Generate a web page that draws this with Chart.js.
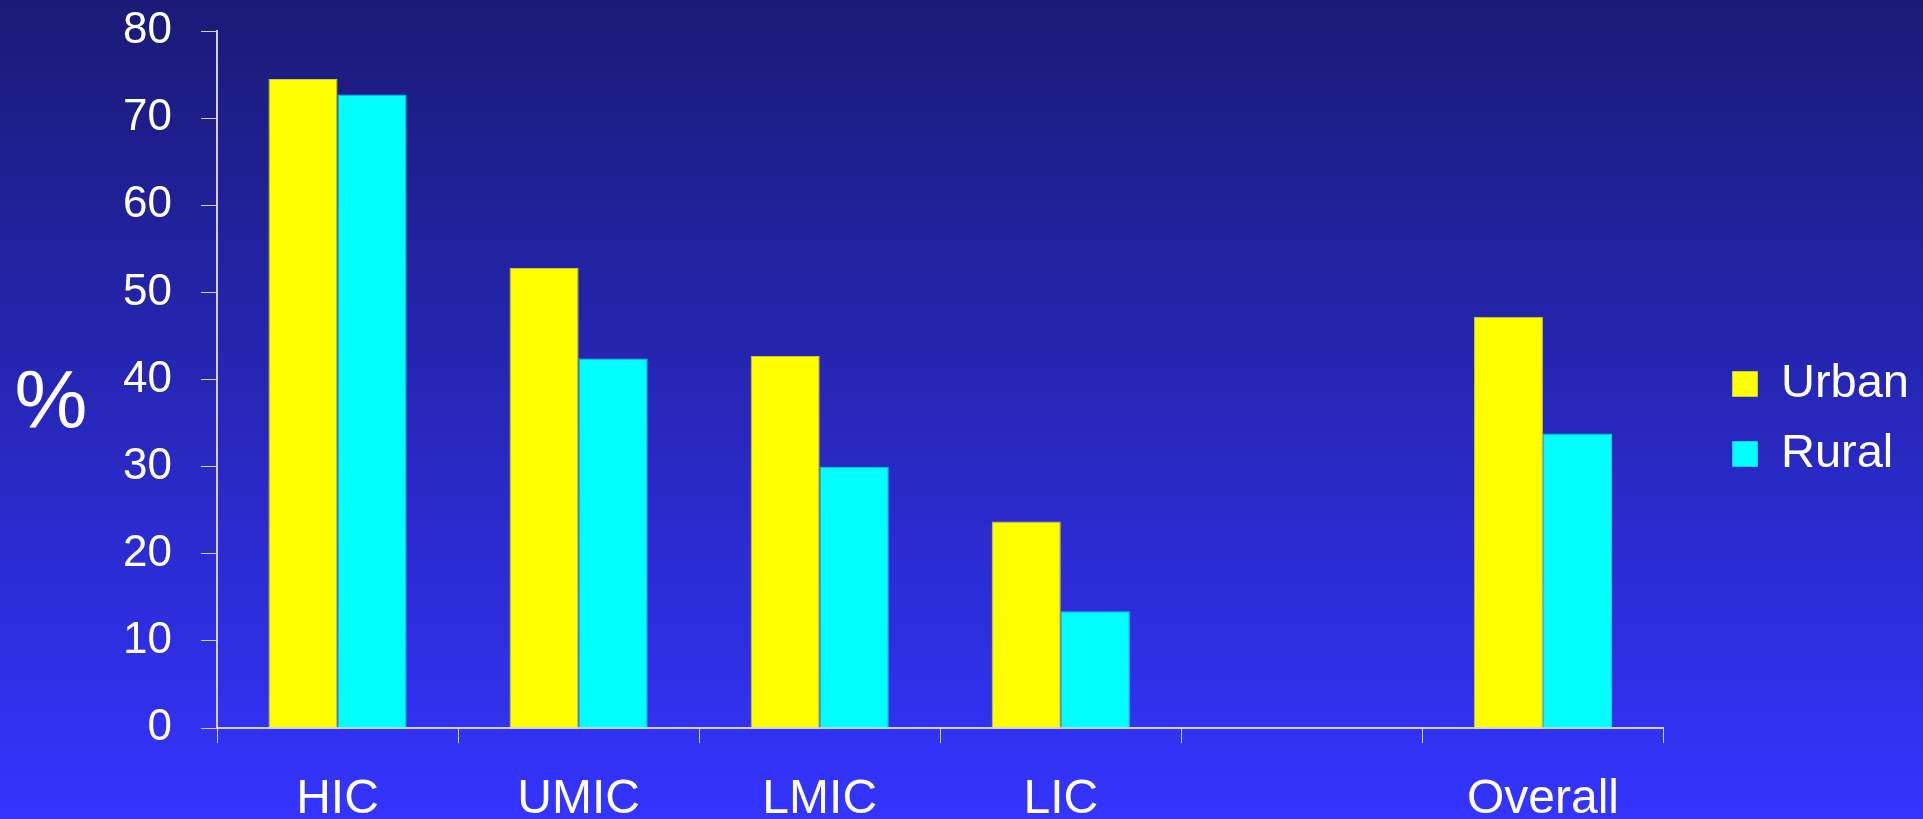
<!DOCTYPE html>
<html>
<head>
<meta charset="utf-8">
<script src="https://cdn.jsdelivr.net/npm/chart.js@4"></script>
<style>
  html, body { margin: 0; padding: 0; background: #2a2ad0; }
  #wrap { width: 1923px; height: 819px; position: relative; }
</style>
</head>
<body>
<div id="wrap"><canvas id="myChart"></canvas></div>
<script>
const categories = ['HIC', 'UMIC', 'LMIC', 'LIC', '', 'Overall'];
const urbanValues = [74.5, 52.8, 42.7, 23.7, null, 47.2];
const ruralValues = [72.7, 42.4, 30.0, 13.4, null, 33.8];

const axisColor = '#d0d0e6';

// slide-style blue gradient behind everything
const bgGradient = {
    id: 'bgGradient',
    beforeDraw(chart) {
        const c = chart.ctx;
        const g = c.createLinearGradient(0, 0, 0, chart.height);
        g.addColorStop(0, '#1a1a76');
        g.addColorStop(1, '#3434ff');
        c.save();
        c.fillStyle = g;
        c.fillRect(0, 0, chart.width, chart.height);
        c.restore();
    }
};

// the "%" label left of the y axis, kept upright
const percentLabel = {
    id: 'percentLabel',
    afterDraw(chart) {
        const c = chart.ctx;
        const area = chart.chartArea;
        c.save();
        c.fillStyle = '#ffffff';
        c.font = '82px "Liberation Sans", Arial, sans-serif';
        c.textAlign = 'center';
        c.textBaseline = 'alphabetic';
        c.fillText('%', 51, (area.top + area.bottom) / 2 + 48);
        c.restore();
    }
};

const ctx = document.getElementById('myChart');
new Chart(ctx, {
    type: 'bar',
    data: {
        labels: categories,
        datasets: [
            {
                label: 'Urban',
                data: urbanValues,
                backgroundColor: '#ffff00',
                borderColor: '#c8c840',
                borderWidth: 1,
                yAxisID: 'y'
            },
            {
                label: 'Rural',
                data: ruralValues,
                backgroundColor: '#00ffff',
                borderColor: '#20c8e8',
                borderWidth: 1,
                yAxisID: 'y'
            }
        ]
    },
    options: {
        responsive: true,
        maintainAspectRatio: false,
        animation: false,
        categoryPercentage: 0.573,
        barPercentage: 1.0,
        layout: {
            padding: { top: 19, right: 4, bottom: 0, left: 0 }
        },
        scales: {
            x: {
                grid: {
                    drawOnChartArea: false,
                    drawTicks: true,
                    tickLength: 15,
                    color: axisColor,
                    offset: true
                },
                border: { color: axisColor, width: 2 },
                ticks: {
                    color: '#ffffff',
                    padding: 28,
                    maxRotation: 0,
                    font: { family: '"Liberation Sans", Arial, sans-serif', size: 48 }
                },
                afterFit: (s) => { s.height = 91; }
            },
            y: {
                min: 0,
                max: 80,
                grid: {
                    drawOnChartArea: false,
                    drawTicks: true,
                    tickLength: 16,
                    color: axisColor
                },
                border: { color: axisColor, width: 2 },
                ticks: {
                    stepSize: 10,
                    color: '#ffffff',
                    padding: 29,
                    font: { family: '"Liberation Sans", Arial, sans-serif', size: 44 }
                },
                afterFit: (s) => {
                    s.width = 217;
                    s.paddingTop = 31;
                    s.paddingBottom = 0;
                }
            },
            // empty spacer between plot and legend
            gap: {
                type: 'linear',
                position: 'right',
                display: true,
                grid: { display: false },
                border: { display: false },
                ticks: { display: false },
                afterFit: (s) => { s.width = 46; }
            }
        },
        plugins: {
            legend: {
                position: 'right',
                labels: {
                    color: '#ffffff',
                    boxWidth: 25,
                    boxHeight: 25,
                    padding: 23,
                    font: { family: '"Liberation Sans", Arial, sans-serif', size: 47 }
                }
            },
            tooltip: { enabled: false }
        }
    },
    plugins: [bgGradient, percentLabel]
});
</script>
</body>
</html>
